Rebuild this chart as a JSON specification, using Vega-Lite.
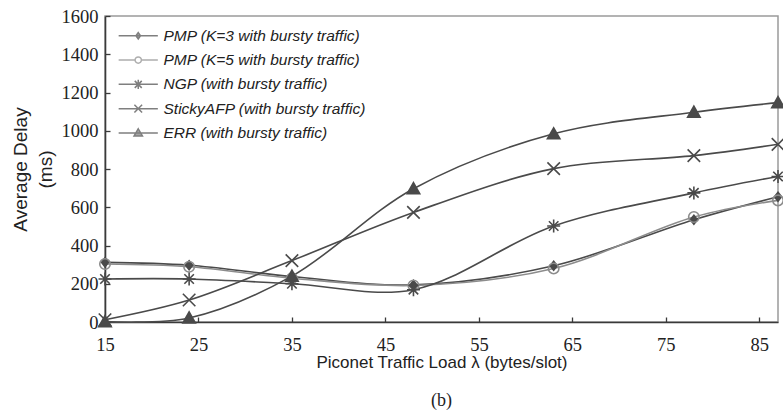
{
  "$schema": "https://vega.github.io/schema/vega-lite/v6.json",
  "width": 673,
  "height": 306,
  "autosize": "none",
  "padding": {"left": 105, "top": 16, "right": 5, "bottom": 90},
  "background": "white",
  "config": {
    "view": {"stroke": "#9a9a9a", "strokeWidth": 1.5},
    "axis": {
      "domainColor": "#3a3a3a",
      "domainWidth": 1.6,
      "tickColor": "#3a3a3a",
      "tickWidth": 1.3,
      "labelFont": "Liberation Serif",
      "labelFontSize": 18.5,
      "labelColor": "#222222",
      "titleFont": "Liberation Sans",
      "titleFontWeight": "normal",
      "titleColor": "#222222",
      "grid": false
    }
  },
  "title": {
    "text": "(b)",
    "orient": "bottom",
    "font": "Liberation Serif",
    "fontSize": 18,
    "fontWeight": "normal",
    "color": "#222222",
    "offset": 21
  },
  "data": {
    "values": [
      {"load": 15, "delay": 312, "series": "PMP (K=3 with bursty traffic)"},
      {"load": 24, "delay": 297, "series": "PMP (K=3 with bursty traffic)"},
      {"load": 35, "delay": 238, "series": "PMP (K=3 with bursty traffic)"},
      {"load": 48, "delay": 194, "series": "PMP (K=3 with bursty traffic)"},
      {"load": 63, "delay": 294, "series": "PMP (K=3 with bursty traffic)"},
      {"load": 78, "delay": 535, "series": "PMP (K=3 with bursty traffic)"},
      {"load": 87, "delay": 655, "series": "PMP (K=3 with bursty traffic)"},
      {"load": 15, "delay": 303, "series": "PMP (K=5 with bursty traffic)"},
      {"load": 24, "delay": 289, "series": "PMP (K=5 with bursty traffic)"},
      {"load": 35, "delay": 229, "series": "PMP (K=5 with bursty traffic)"},
      {"load": 48, "delay": 191, "series": "PMP (K=5 with bursty traffic)"},
      {"load": 63, "delay": 280, "series": "PMP (K=5 with bursty traffic)"},
      {"load": 78, "delay": 549, "series": "PMP (K=5 with bursty traffic)"},
      {"load": 87, "delay": 636, "series": "PMP (K=5 with bursty traffic)"},
      {"load": 15, "delay": 225, "series": "NGP (with bursty traffic)"},
      {"load": 24, "delay": 225, "series": "NGP (with bursty traffic)"},
      {"load": 35, "delay": 200, "series": "NGP (with bursty traffic)"},
      {"load": 48, "delay": 169, "series": "NGP (with bursty traffic)"},
      {"load": 63, "delay": 502, "series": "NGP (with bursty traffic)"},
      {"load": 78, "delay": 675, "series": "NGP (with bursty traffic)"},
      {"load": 87, "delay": 761, "series": "NGP (with bursty traffic)"},
      {"load": 15, "delay": 12, "series": "StickyAFP (with bursty traffic)"},
      {"load": 24, "delay": 115, "series": "StickyAFP (with bursty traffic)"},
      {"load": 35, "delay": 321, "series": "StickyAFP (with bursty traffic)"},
      {"load": 48, "delay": 573, "series": "StickyAFP (with bursty traffic)"},
      {"load": 63, "delay": 802, "series": "StickyAFP (with bursty traffic)"},
      {"load": 78, "delay": 870, "series": "StickyAFP (with bursty traffic)"},
      {"load": 87, "delay": 929, "series": "StickyAFP (with bursty traffic)"},
      {"load": 15, "delay": 2, "series": "ERR (with bursty traffic)"},
      {"load": 24, "delay": 21, "series": "ERR (with bursty traffic)"},
      {"load": 35, "delay": 240, "series": "ERR (with bursty traffic)"},
      {"load": 48, "delay": 697, "series": "ERR (with bursty traffic)"},
      {"load": 63, "delay": 984, "series": "ERR (with bursty traffic)"},
      {"load": 78, "delay": 1097, "series": "ERR (with bursty traffic)"},
      {"load": 87, "delay": 1147, "series": "ERR (with bursty traffic)"}
    ]
  },
  "encoding": {
    "x": {
      "field": "load",
      "type": "quantitative",
      "scale": {"domain": [15, 87], "nice": false, "zero": false},
      "axis": {
        "values": [15, 25, 35, 45, 55, 65, 75, 85],
        "format": "d",
        "tickSize": -5,
        "labelPadding": 18,
        "labelFlush": false,
        "title": "Piconet Traffic Load λ (bytes/slot)",
        "titleFontSize": 17,
        "titlePadding": 1
      }
    },
    "y": {
      "field": "delay",
      "type": "quantitative",
      "scale": {"domain": [0, 1600], "nice": false},
      "axis": {
        "values": [0, 200, 400, 600, 800, 1000, 1200, 1400, 1600],
        "format": "d",
        "tickSize": -5,
        "labelPadding": 12,
        "labelFlush": false,
        "title": ["Average Delay", "(ms)"],
        "titleFontSize": 19,
        "titleLineHeight": 25,
        "titlePadding": 6
      }
    }
  },
  "resolve": {"scale": {"stroke": "independent", "shape": "independent", "fill": "independent"}},
  "layer": [
    {
      "mark": {"type": "line", "interpolate": "catmull-rom", "strokeWidth": 1.6},
      "encoding": {
        "detail": {"field": "series"},
        "stroke": {
          "field": "series",
          "type": "nominal",
          "scale": {
            "domain": ["ERR (with bursty traffic)", "StickyAFP (with bursty traffic)", "NGP (with bursty traffic)", "PMP (K=5 with bursty traffic)", "PMP (K=3 with bursty traffic)"],
            "range": ["#4a4a4a", "#4a4a4a", "#4a4a4a", "#8c8c8c", "#4a4a4a"]
          },
          "legend": null
        }
      }
    },
    {
      "mark": {"type": "point", "opacity": 1, "strokeWidth": 1.6, "filled": false, "size": 100},
      "encoding": {
        "stroke": {
          "field": "series",
          "type": "nominal",
          "scale": {
            "domain": ["ERR (with bursty traffic)", "StickyAFP (with bursty traffic)", "NGP (with bursty traffic)", "PMP (K=5 with bursty traffic)", "PMP (K=3 with bursty traffic)"],
            "range": ["#4a4a4a", "#4a4a4a", "#4a4a4a", "#8c8c8c", "#4a4a4a"]
          },
          "legend": null
        },
        "shape": {
          "field": "series",
          "type": "nominal",
          "scale": {
            "domain": ["ERR (with bursty traffic)", "StickyAFP (with bursty traffic)", "NGP (with bursty traffic)", "PMP (K=5 with bursty traffic)", "PMP (K=3 with bursty traffic)"],
            "range": [
              "M0,-1.2L1.25,1L-1.25,1Z",
              "M-1.25,-1.25L1.25,1.25M-1.25,1.25L1.25,-1.25",
              "M-1.3,0L1.3,0M0,-1.3L0,1.3M-0.95,-0.95L0.95,0.95M-0.95,0.95L0.95,-0.95",
              "M1.05,0A1.05,1.05,0,1,1,-1.05,0A1.05,1.05,0,1,1,1.05,0Z",
              "M0,-0.9L0.7,0L0,0.9L-0.7,0Z"
            ]
          },
          "legend": null
        },
        "fill": {
          "field": "series",
          "type": "nominal",
          "scale": {
            "domain": ["ERR (with bursty traffic)", "StickyAFP (with bursty traffic)", "NGP (with bursty traffic)", "PMP (K=5 with bursty traffic)", "PMP (K=3 with bursty traffic)"],
            "range": ["#4a4a4a", "transparent", "transparent", "transparent", "#4a4a4a"]
          },
          "legend": null
        }
      }
    },
    {
      "transform": [{"filter": "datum.delay < 0"}],
      "mark": {"type": "point", "strokeWidth": 1.5, "filled": false, "size": 49},
      "encoding": {
        "stroke": {
          "field": "series",
          "type": "nominal",
          "scale": {
            "domain": ["PMP (K=3 with bursty traffic)", "PMP (K=5 with bursty traffic)", "NGP (with bursty traffic)", "StickyAFP (with bursty traffic)", "ERR (with bursty traffic)"],
            "range": ["#4a4a4a", "#8c8c8c", "#4a4a4a", "#4a4a4a", "#4a4a4a"]
          },
          "legend": {
            "orient": "none",
            "legendX": 25.5,
            "legendY": 12,
            "title": null,
            "padding": 0,
            "labelFont": "Liberation Sans",
            "labelFontStyle": "italic",
            "labelFontSize": 15.5,
            "labelColor": "#222222",
            "labelOffset": 17.5,
            "labelLimit": 400,
            "rowPadding": 7.3,
            "symbolSize": 49,
            "symbolStrokeWidth": 1.5
          }
        },
        "shape": {
          "field": "series",
          "type": "nominal",
          "scale": {
            "domain": ["PMP (K=3 with bursty traffic)", "PMP (K=5 with bursty traffic)", "NGP (with bursty traffic)", "StickyAFP (with bursty traffic)", "ERR (with bursty traffic)"],
            "range": [
              "M-5.6,0L5.6,0M0,-0.9L0.65,0L0,0.9L-0.65,0Z",
              "M-5.6,0L-0.9,0M0.9,0L5.6,0M0.9,0A0.9,0.9,0,1,1,-0.9,0A0.9,0.9,0,1,1,0.9,0Z",
              "M-5.6,0L5.6,0M0,-1.3L0,1.3M-1,-1L1,1M-1,1L1,-1",
              "M-5.6,0L5.6,0M-1.1,-1.1L1.1,1.1M-1.1,1.1L1.1,-1.1",
              "M-5.6,0L5.6,0M0,-1.2L1.2,0.9L-1.2,0.9Z"
            ]
          },
          "legend": {
            "orient": "none",
            "legendX": 25.5,
            "legendY": 12,
            "title": null,
            "padding": 0,
            "labelFont": "Liberation Sans",
            "labelFontStyle": "italic",
            "labelFontSize": 15.5,
            "labelColor": "#222222",
            "labelOffset": 17.5,
            "labelLimit": 400,
            "rowPadding": 7.3,
            "symbolSize": 49,
            "symbolStrokeWidth": 1.5
          }
        },
        "fill": {
          "field": "series",
          "type": "nominal",
          "scale": {
            "domain": ["PMP (K=3 with bursty traffic)", "PMP (K=5 with bursty traffic)", "NGP (with bursty traffic)", "StickyAFP (with bursty traffic)", "ERR (with bursty traffic)"],
            "range": ["#4a4a4a", "transparent", "transparent", "transparent", "#4a4a4a"]
          },
          "legend": {
            "orient": "none",
            "legendX": 25.5,
            "legendY": 12,
            "title": null,
            "padding": 0,
            "labelFont": "Liberation Sans",
            "labelFontStyle": "italic",
            "labelFontSize": 15.5,
            "labelColor": "#222222",
            "labelOffset": 17.5,
            "labelLimit": 400,
            "rowPadding": 7.3,
            "symbolSize": 49,
            "symbolStrokeWidth": 1.5
          }
        }
      }
    }
  ]
}
